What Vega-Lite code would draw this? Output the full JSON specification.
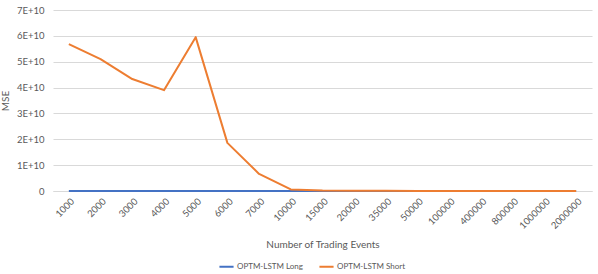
{
  "$schema": "https://vega.github.io/schema/vega-lite/v6.json",
  "width": 539,
  "height": 181,
  "autosize": {"type": "none"},
  "padding": {"left": 53, "top": 10, "right": 6, "bottom": 83},
  "background": "white",
  "config": {
    "view": {"stroke": null},
    "font": "Lato"
  },
  "data": {
    "values": [
      {"events": 1000, "series": "OPTM-LSTM Long", "mse": 20000000},
      {"events": 2000, "series": "OPTM-LSTM Long", "mse": 18000000},
      {"events": 3000, "series": "OPTM-LSTM Long", "mse": 15000000},
      {"events": 4000, "series": "OPTM-LSTM Long", "mse": 14000000},
      {"events": 5000, "series": "OPTM-LSTM Long", "mse": 12000000},
      {"events": 6000, "series": "OPTM-LSTM Long", "mse": 8000000},
      {"events": 7000, "series": "OPTM-LSTM Long", "mse": 6000000},
      {"events": 10000, "series": "OPTM-LSTM Long", "mse": 4000000},
      {"events": 15000, "series": "OPTM-LSTM Long", "mse": 3000000},
      {"events": 20000, "series": "OPTM-LSTM Long", "mse": 2500000},
      {"events": 35000, "series": "OPTM-LSTM Long", "mse": 2000000},
      {"events": 50000, "series": "OPTM-LSTM Long", "mse": 1500000},
      {"events": 100000, "series": "OPTM-LSTM Long", "mse": 1200000},
      {"events": 400000, "series": "OPTM-LSTM Long", "mse": 1000000},
      {"events": 800000, "series": "OPTM-LSTM Long", "mse": 900000},
      {"events": 1000000, "series": "OPTM-LSTM Long", "mse": 800000},
      {"events": 2000000, "series": "OPTM-LSTM Long", "mse": 700000},
      {"events": 1000, "series": "OPTM-LSTM Short", "mse": 56800000000},
      {"events": 2000, "series": "OPTM-LSTM Short", "mse": 51000000000},
      {"events": 3000, "series": "OPTM-LSTM Short", "mse": 43300000000},
      {"events": 4000, "series": "OPTM-LSTM Short", "mse": 39000000000},
      {"events": 5000, "series": "OPTM-LSTM Short", "mse": 59500000000},
      {"events": 6000, "series": "OPTM-LSTM Short", "mse": 18600000000},
      {"events": 7000, "series": "OPTM-LSTM Short", "mse": 6600000000},
      {"events": 10000, "series": "OPTM-LSTM Short", "mse": 600000000},
      {"events": 15000, "series": "OPTM-LSTM Short", "mse": 150000000},
      {"events": 20000, "series": "OPTM-LSTM Short", "mse": 80000000},
      {"events": 35000, "series": "OPTM-LSTM Short", "mse": 50000000},
      {"events": 50000, "series": "OPTM-LSTM Short", "mse": 40000000},
      {"events": 100000, "series": "OPTM-LSTM Short", "mse": 30000000},
      {"events": 400000, "series": "OPTM-LSTM Short", "mse": 20000000},
      {"events": 800000, "series": "OPTM-LSTM Short", "mse": 15000000},
      {"events": 1000000, "series": "OPTM-LSTM Short", "mse": 12000000},
      {"events": 2000000, "series": "OPTM-LSTM Short", "mse": 10000000}
    ]
  },
  "mark": {"type": "line", "strokeWidth": 2, "strokeJoin": "round"},
  "encoding": {
    "x": {
      "field": "events",
      "type": "ordinal",
      "sort": "ascending",
      "scale": {"type": "point", "padding": 0.5},
      "axis": {
        "title": "Number of Trading Events",
        "titleFont": "Lato",
        "titleFontSize": 10,
        "titleFontWeight": "normal",
        "titleColor": "#595959",
        "titlePadding": 10,
        "labelAngle": -45,
        "labelFontSize": 9.5,
        "labelColor": "#595959",
        "labelPadding": 5,
        "ticks": false,
        "domain": true,
        "domainColor": "#D9D9D9",
        "grid": false
      }
    },
    "y": {
      "field": "mse",
      "type": "quantitative",
      "scale": {"domain": [0, 70000000000], "nice": false},
      "axis": {
        "title": "MSE",
        "titleFont": "Lato",
        "titleFontSize": 10,
        "titleFontWeight": "normal",
        "titleColor": "#595959",
        "titlePadding": 6,
        "values": [0, 10000000000, 20000000000, 30000000000, 40000000000, 50000000000, 60000000000, 70000000000],
        "labelExpr": "datum.value == 0 ? '0' : (datum.value / 10000000000) + 'E+10'",
        "labelFontSize": 9.5,
        "labelColor": "#595959",
        "labelPadding": 9,
        "ticks": false,
        "domain": false,
        "grid": true,
        "gridColor": "#D9D9D9",
        "gridWidth": 1
      }
    },
    "color": {
      "field": "series",
      "type": "nominal",
      "scale": {"domain": ["OPTM-LSTM Long", "OPTM-LSTM Short"], "range": ["#4472C4", "#ED7D31"]},
      "legend": {
        "title": null,
        "orient": "none",
        "legendX": 165,
        "legendY": 248,
        "direction": "horizontal",
        "symbolType": "stroke",
        "symbolSize": 200,
        "symbolStrokeWidth": 2,
        "labelFontSize": 8,
        "labelOffset": 2,
        "labelColor": "#595959",
        "columnPadding": 12
      }
    }
  }
}
